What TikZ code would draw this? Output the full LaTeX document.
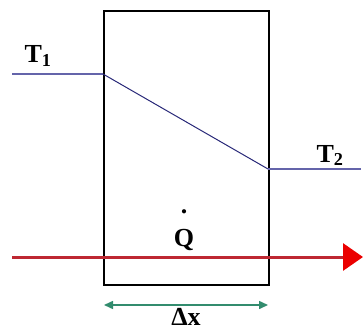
\documentclass[tikz,border=0pt]{standalone}
\usepackage{fontspec}
\setmainfont{Liberation Serif}
\usetikzlibrary{arrows.meta}
\definecolor{tline}{RGB}{100,100,170}
\definecolor{sline}{RGB}{40,40,120}
\definecolor{heat}{RGB}{190,40,50}
\definecolor{tipred}{RGB}{235,0,0}
\definecolor{dimgreen}{RGB}{50,140,110}
\tikzset{
  lbl/.style={font=\bfseries\fontsize{26}{28}\selectfont, inner sep=0pt},
  templine/.style={draw=tline, line width=1.3pt},
}
\begin{document}
\begin{tikzpicture}[x=1pt,y=-1pt]
\useasboundingbox (0,0) rectangle (363,331);
% wall
\node[draw=black, line width=2pt, minimum width=165pt, minimum height=274pt, inner sep=0pt, anchor=north west] (wall) at (103,10) {};
\coordinate (a) at (12,74);
\coordinate (b) at (103,74);
\coordinate (c) at (268,169);
\coordinate (d) at (361,169);
\draw[templine] (a) -- (b);
\draw[draw=sline, line width=1pt] (b) -- (c);
\draw[templine] (c) -- (d);
\node[lbl, anchor=base] (t1) at (38,63) {T\textsubscript{1}};
\node[lbl, anchor=base] (t2) at (330,162) {T\textsubscript{2}};
\node[lbl, anchor=base, align=center] (q) at (184,246) {.\\[5pt]Q};
% heat flow
\coordinate (hs) at (12,257);
\coordinate (he) at (363,257);
\draw[heat, line width=3pt, -{Triangle[length=20pt, width=27pt, fill=tipred, color=tipred]}] (hs) -- (he);
% thickness
\coordinate (ds) at (104,305);
\coordinate (de) at (268,305);
\draw[dimgreen, line width=1.5pt, {Triangle[length=9pt,width=8pt]}-{Triangle[length=9pt,width=8pt]}] (ds) -- (de);
\node[lbl, anchor=base] (dx) at (186,325) {Δx};
\end{tikzpicture}
\end{document}
